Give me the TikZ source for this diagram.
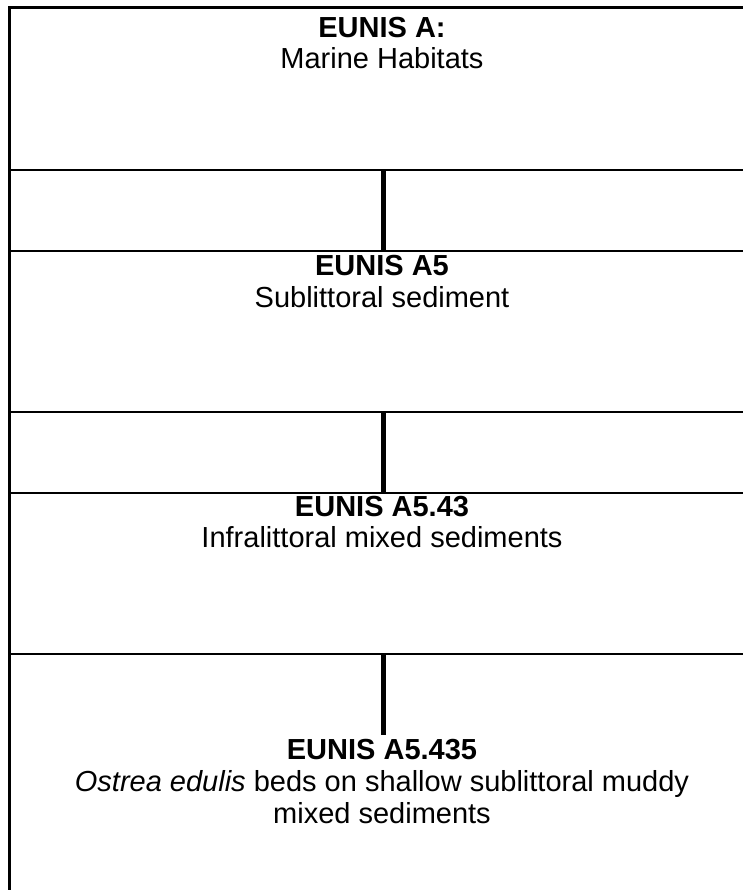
\documentclass[tikz,border=0pt]{standalone}
\usepackage{fontspec}
\setmainfont{Liberation Sans}
\begin{document}
\begin{tikzpicture}[x=1pt,y=-1pt,
  frame/.style={line width=3pt},
  rule/.style={line width=2.5pt},
  link/.style={line width=5pt},
  head/.style={anchor=base,inner sep=0pt,font=\bfseries\fontsize{29}{32}\selectfont},
  body/.style={anchor=base,inner sep=0pt,font=\fontsize{29}{32}\selectfont}]
\useasboundingbox (0,0) rectangle (743,890);
\fill[white] (0,0) rectangle (743,890);

% outer frame: left side and top edge
\draw[frame] (9.5,890) -- (9.5,7.5) -- (743,7.5);

% box edges
\draw[rule] (9.5,170) -- (743,170);
\draw[rule] (9.5,251) -- (743,251);
\draw[rule] (9.5,412) -- (743,412);
\draw[rule] (9.5,493) -- (743,493);
\draw[rule] (9.5,654) -- (743,654);

% connector end points
\coordinate (a1) at (383.5,170);
\coordinate (a2) at (383.5,251);
\coordinate (b1) at (383.5,412);
\coordinate (b2) at (383.5,493);
\coordinate (c1) at (383.5,654);
\coordinate (c2) at (383.5,735);
\draw[link] (a1) -- (a2);
\draw[link] (b1) -- (b2);
\draw[link] (c1) -- (c2);

% labels
\node[head] (h1) at (382,38) {EUNIS A:};
\node[body] (d1) at (382,69) {Marine Habitats};
\node[head] (h2) at (382,276) {EUNIS A5};
\node[body] (d2) at (382,307) {Sublittoral sediment};
\node[head] (h3) at (382,516) {EUNIS A5.43};
\node[body] (d3) at (382,547) {Infralittoral mixed sediments};
\node[head] (h4) at (382,759) {EUNIS A5.435};
\node[body] (d4) at (382,791) {\textit{Ostrea edulis} beds on shallow sublittoral muddy};
\node[body] (e4) at (382,823) {mixed sediments};
\end{tikzpicture}
\end{document}
